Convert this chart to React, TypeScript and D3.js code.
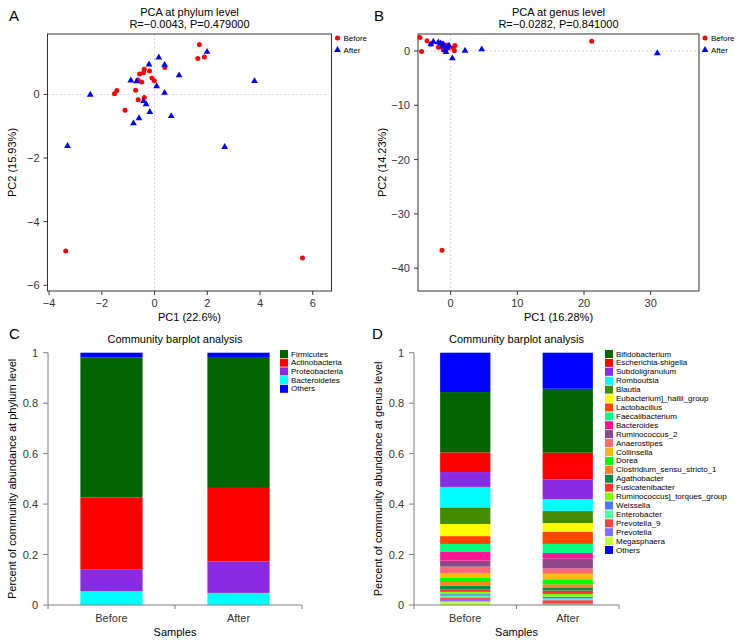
import React from "react";
import * as d3 from "d3";

// PCA phylum level
const phyBeforePC1 = [1.7, 1.64, 1.89, 0.39, -0.19, -0.39, -0.57, -0.42, -0.63, -0.49, -0.1, -0.01, -1.43, -1.52, -0.72, -0.62, -0.39, -1.12, -3.37, 5.61];
const phyBeforePC2 = [1.57, 1.13, 1.18, 0.85, 0.74, 0.79, 0.64, 0.68, 0.45, 0.39, 0.52, 0.43, 0.12, 0.02, 0.13, -0.17, -0.1, -0.5, -4.92, -5.14];
const phyAfterPC1 = [1.99, 0.16, -0.21, 0.38, 0.93, 3.79, -0.9, -0.68, 0.08, 0.38, -2.44, -0.42, -0.32, -0.18, -0.59, -0.8, 0.63, 2.66, -3.3];
const phyAfterPC2 = [1.34, 1.16, 0.94, 0.93, 0.6, 0.42, 0.44, 0.41, 0.26, 0.05, -0.01, -0.21, -0.31, -0.55, -0.75, -0.91, -0.68, -1.65, -1.62];

// PCA genus level
const genBeforePC1 = [-4.6, -4.36, -3.55, -2.96, -1.85, -1.6, -1.25, -0.6, -0.35, 0.4, 0.55, -0.95, 0.65, -1.1, 21.15, -1.3];
const genBeforePC2 = [2.5, -0.1, 1.9, 1.29, 0.67, 0.8, 1.4, 1.1, 0.6, 0.6, 0.06, 0.37, 1.0, 0.2, 1.8, -36.7];
const genAfterPC1 = [-2.6, -2.96, -1.5, -1.1, -0.85, -0.5, -0.25, 0.25, 2.15, 4.66, -1.2, -1.85, -0.7, 31.0];
const genAfterPC2 = [1.7, 1.23, 1.4, 1.2, 0.18, 0.5, 1.0, -1.35, 0.06, 0.3, 0.8, 1.6, -0.2, -0.4];

// community barplots
const samples = ["Before", "After"];

const phylumNames = ["Firmicutes", "Actinobacteria", "Proteobacteria", "Bacteroidetes", "Others"];
const phylumColors = ["#006400", "#FF0000", "#8A2BE2", "#00FFFF", "#0000FF"];
const phylumBefore = [0.555, 0.284, 0.087, 0.055, 0.019];
const phylumAfter = [0.519, 0.291, 0.125, 0.048, 0.017];

const genusNames = [
  "Bifidobacterium", "Escherichia-shigella", "Subdoligranulum", "Romboutsia", "Blautia",
  "Eubacterium]_hallii_group", "Lactobacillus", "Faecalibacterium", "Bacteroides", "Ruminococcus_2",
  "Anaerostipes", "Collinsella", "Dorea", "Clostridium_sensu_stricto_1", "Agathobacter",
  "Fusicatenibacter", "Ruminococcus]_torques_group", "Weissella", "Enterobacter", "Prevotella_9",
  "Prevotella", "Megasphaera", "Others",
];
const genusColors = [
  "#006400", "#FF0000", "#8A2BE2", "#00FFFF", "#458B00",
  "#FFFF00", "#FF4500", "#00FF7F", "#FF1493", "#8B4789",
  "#FF6A6A", "#FFB90F", "#00FF00", "#FF7F24", "#008B45",
  "#FF3030", "#7FFF00", "#4876FF", "#54FF9F", "#FF4040",
  "#836FFF", "#C0FF3E", "#0000FF",
];
const genusBefore = [
  0.239, 0.078, 0.059, 0.081, 0.066,
  0.048, 0.031, 0.032, 0.034, 0.024,
  0.025, 0.02, 0.016, 0.014, 0.015,
  0.01, 0.009, 0.006, 0.007, 0.006,
  0.01, 0.014, 0.156,
];
const genusAfter = [
  0.253, 0.107, 0.077, 0.047, 0.048,
  0.034, 0.049, 0.036, 0.022, 0.039,
  0.021, 0.022, 0.02, 0.012, 0.013,
  0.013, 0.011, 0.007, 0.007, 0.012,
  0.005, 0.002, 0.143,
];

const FONT = "'Liberation Sans', Arial, Helvetica, sans-serif";
const AXIS = "#333333";
const GREY = "#7f7f7f";

const fmt = (v: number) => (v < 0 ? "\u2212" + Math.abs(v) : String(v));

function Pca(props: any) {
  const { left, right, top, bottom, xDomain, yDomain, xTicks, yTicks, title, stat, xLabel, yLabel, letter, letterX, bx, by, ax, ay } = props;
  const x = d3.scaleLinear().domain(xDomain).range([left, right]);
  const y = d3.scaleLinear().domain(yDomain).range([bottom, top]);
  const tri = d3.symbol(d3.symbolTriangle, 20)();
  const cx = (left + right) / 2;
  return (
    <g>
      <text x={letterX} y={15} fontSize={15} dominantBaseline="central">{letter}</text>
      <text x={cx} y={12} fontSize={11} textAnchor="middle" dominantBaseline="central">{title}</text>
      <text x={cx} y={24} fontSize={11} textAnchor="middle" dominantBaseline="central">{stat}</text>
      <line x1={x(0)} x2={x(0)} y1={top} y2={bottom} stroke="#cccccc" strokeDasharray="2,2" strokeWidth={0.8} />
      <line x1={left} x2={right} y1={y(0)} y2={y(0)} stroke="#cccccc" strokeDasharray="2,2" strokeWidth={0.8} />
      <rect x={left} y={top} width={right - left} height={bottom - top} fill="none" stroke={AXIS} strokeWidth={1} />
      {xTicks.map((t: number) => (
        <g key={"x" + t}>
          <line x1={x(t)} x2={x(t)} y1={bottom} y2={bottom + 4} stroke={AXIS} />
          <text x={x(t)} y={bottom + 12} fontSize={11} textAnchor="middle" dominantBaseline="central" fill={AXIS}>{fmt(t)}</text>
        </g>
      ))}
      {yTicks.map((t: number) => (
        <g key={"y" + t}>
          <line x1={left - 4} x2={left} y1={y(t)} y2={y(t)} stroke={AXIS} />
          <text x={left - 8} y={y(t)} fontSize={11} textAnchor="end" dominantBaseline="central" fill={AXIS}>{fmt(t)}</text>
        </g>
      ))}
      {bx.map((v: number, i: number) => (
        <circle key={"b" + i} cx={x(v)} cy={y(by[i])} r={2.5} fill="#FF0000" />
      ))}
      {ax.map((v: number, i: number) => (
        <path key={"a" + i} d={tri as string} transform={`translate(${x(v)},${y(ay[i])})`} fill="#0000FF" />
      ))}
      <text x={cx} y={bottom + 26} fontSize={11} textAnchor="middle" dominantBaseline="central">{xLabel}</text>
      <text transform={`translate(${left - 36},${(top + bottom) / 2}) rotate(-90)`} fontSize={11} textAnchor="middle" dominantBaseline="central">{yLabel}</text>
      <circle cx={right + 6} cy={top + 4} r={2.5} fill="#FF0000" />
      <text x={right + 12} y={top + 4} fontSize={8} dominantBaseline="central">Before</text>
      <path d={tri as string} transform={`translate(${right + 6},${top + 16})`} fill="#0000FF" />
      <text x={right + 12} y={top + 16} fontSize={8} dominantBaseline="central">After</text>
    </g>
  );
}

function Bars(props: any) {
  const { left, right, top, bottom, names, colors, before, after, yLabel, letter, letterX, legendX, legendStep } = props;
  const x = d3.scaleBand().domain(samples).range([left, right]).padding(0);
  const y = d3.scaleLinear().domain([0, 1]).range([bottom, top]);
  const rows = samples.map((s, si) => {
    const vals = si === 0 ? before : after;
    const r: any = { sample: s };
    names.forEach((n: string, i: number) => (r[n] = vals[i]));
    return r;
  });
  const keys = [...names.slice(0, -1)].reverse().concat(names[names.length - 1]);
  const series = d3.stack().keys(keys)(rows);
  const bw = x.bandwidth() * 0.49;
  const cx = (left + right) / 2;
  return (
    <g>
      <text x={letterX} y={333} fontSize={15} dominantBaseline="central">{letter}</text>
      <text x={cx} y={339} fontSize={11} textAnchor="middle" dominantBaseline="central">Community barplot analysis</text>
      {series.map((s: any) => {
        const color = colors[names.indexOf(s.key)];
        return s.map((d: any, i: number) => (
          <rect key={s.key + i} x={(x(samples[i]) as number) + (x.bandwidth() - bw) / 2} y={y(d[1])} width={bw} height={Math.max(0, y(d[0]) - y(d[1]))} fill={color} />
        ));
      })}
      <line x1={left} x2={left} y1={top} y2={bottom} stroke={GREY} />
      <line x1={left} x2={right} y1={bottom} y2={bottom} stroke={GREY} />
      {y.ticks(5).map((t) => (
        <g key={"y" + t}>
          <line x1={left - 5} x2={left} y1={y(t)} y2={y(t)} stroke={GREY} />
          <text x={left - 10} y={y(t)} fontSize={11} textAnchor="end" dominantBaseline="central" fill={AXIS}>{String(t)}</text>
        </g>
      ))}
      {[...samples.map((s) => x(s) as number), right].map((t, i) => (
        <line key={"xt" + i} x1={t} x2={t} y1={bottom} y2={bottom + 4} stroke={GREY} />
      ))}
      {samples.map((s) => (
        <text key={s} x={(x(s) as number) + x.bandwidth() / 2} y={bottom + 13} fontSize={11} textAnchor="middle" dominantBaseline="central" fill={AXIS}>{s}</text>
      ))}
      <text x={cx} y={bottom + 27} fontSize={11} textAnchor="middle" dominantBaseline="central">Samples</text>
      <text transform={`translate(${left - 36},${(top + bottom) / 2}) rotate(-90)`} fontSize={11} textAnchor="middle" dominantBaseline="central">{yLabel}</text>
      {names.map((n: string, i: number) => (
        <g key={n} transform={`translate(${legendX},${354 + i * legendStep})`}>
          <rect x={0} y={-4} width={8} height={8} fill={colors[i]} />
          <text x={11} y={0} fontSize={8} dominantBaseline="central">{n}</text>
        </g>
      ))}
    </g>
  );
}

export default function App() {
  return (
    <div style={{ position: "absolute", left: 0, top: 0 }}>
      <svg width={738} height={640} style={{ display: "block", fontFamily: FONT }}>
        <rect width={738} height={640} fill="#ffffff" />
        <Pca
          left={47.5} right={331.5} top={34} bottom={291}
          xDomain={[-4.06, 6.71]} yDomain={[-6.18, 1.9]}
          xTicks={[-4, -2, 0, 2, 4, 6]} yTicks={[-6, -4, -2, 0]}
          title="PCA at phylum level" stat={"R=\u22120.0043, P=0.479000"}
          xLabel="PC1 (22.6%)" yLabel="PC2 (15.93%)" letter="A" letterX={9}
          bx={phyBeforePC1} by={phyBeforePC2} ax={phyAfterPC1} ay={phyAfterPC2}
        />
        <Pca
          left={418} right={699} top={34} bottom={291}
          xDomain={[-4.9, 37.25]} yDomain={[-44.2, 3.13]}
          xTicks={[0, 10, 20, 30]} yTicks={[-40, -30, -20, -10, 0]}
          title="PCA at genus level" stat={"R=\u22120.0282, P=0.841000"}
          xLabel="PC1 (16.28%)" yLabel="PC2 (14.23%)" letter="B" letterX={374}
          bx={genBeforePC1} by={genBeforePC2} ax={genAfterPC1} ay={genAfterPC2}
        />
        <Bars
          left={48} right={302} top={352.7} bottom={605}
          names={phylumNames} colors={phylumColors} before={phylumBefore} after={phylumAfter}
          yLabel="Percent of community abundance at phylum level" letter="C" letterX={9}
          legendX={280} legendStep={8.7}
        />
        <Bars
          left={414} right={619} top={352.7} bottom={605}
          names={genusNames} colors={genusColors} before={genusBefore} after={genusAfter}
          yLabel="Percent of community abundance at genus level" letter="D" letterX={372}
          legendX={605} legendStep={8.91}
        />
      </svg>
    </div>
  );
}
